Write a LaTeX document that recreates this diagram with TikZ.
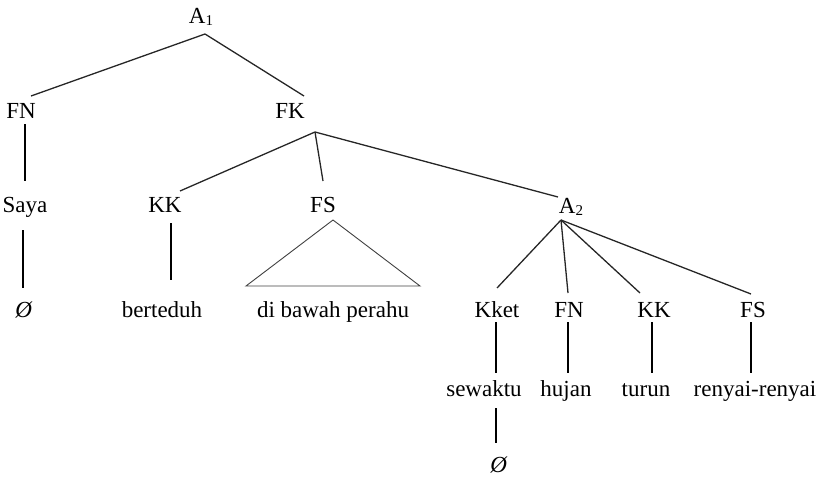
\documentclass[tikz,border=0pt]{standalone}
\usepackage{fontspec}
\setmainfont{Liberation Serif}
\begin{document}
\begin{tikzpicture}[x=1pt,y=-1pt,
  lbl/.style={anchor=base,inner sep=0pt,font=\fontsize{23}{27}\selectfont},
  diag/.style={line width=1.3pt,color=black!85},
  vert/.style={line width=2pt,color=black},
  tri/.style={line width=0.9pt,color=black!75}]
\useasboundingbox (0,0) rectangle (824,477);
% nodes
\node[lbl] (A1) at (201,23) {A\raisebox{-0.25ex}{\fontsize{15}{15}\selectfont 1}};
\node[lbl] (FN) at (21,118) {FN};
\node[lbl] (FK) at (290,118) {FK};
\node[lbl] (Saya) at (25,212) {Saya};
\node[lbl] (KK) at (165,212) {KK};
\node[lbl] (FS) at (323,212) {FS};
\node[lbl] (A2) at (571,213) {A\raisebox{-0.25ex}{\fontsize{15}{15}\selectfont 2}};
\node[lbl] (O1) at (24,317) {\textit{Ø}};
\node[lbl] (bert) at (162,317) {berteduh};
\node[lbl] (dbp) at (333,317) {di bawah perahu};
\node[lbl] (Kket) at (497,317) {Kket};
\node[lbl] (FNb) at (569,317) {FN};
\node[lbl] (KKb) at (654,317) {KK};
\node[lbl] (FSb) at (753,317) {FS};
\node[lbl] (sew) at (484,396) {sewaktu};
\node[lbl] (huj) at (566,396) {hujan};
\node[lbl] (tur) at (646,396) {turun};
\node[lbl] (ren) at (755,396) {renyai-renyai};
\node[lbl] (O2) at (499,472) {\textit{Ø}};
% connectors
\draw[diag] ([shift={(4,11)}]A1.base) -- ([shift={(10,-22)}]FN.base);
\draw[diag] ([shift={(4,11)}]A1.base) -- ([shift={(14,-22)}]FK.base);
\draw[vert] ([shift={(4,6)}]FN.base) -- ([shift={(0,-31)}]Saya.base);
\draw[diag] ([shift={(25,14)}]FK.base) -- ([shift={(15,-21)}]KK.base);
\draw[diag] ([shift={(25,14)}]FK.base) -- ([shift={(0,-31)}]FS.base);
\draw[diag] ([shift={(25,14)}]FK.base) -- ([shift={(-13,-16)}]A2.base);
\draw[vert] ([shift={(-2,18)}]Saya.base) -- ([shift={(-1,-29)}]O1.base);
\draw[vert] ([shift={(6,11)}]KK.base) -- ([shift={(9,-37)}]bert.base);
\draw[tri] ([shift={(10,8)}]FS.base) -- ([shift={(-87,-31)}]dbp.base)
  -- ([shift={(87,-31)}]dbp.base) -- cycle;
\draw[diag] ([shift={(-10,7)}]A2.base) -- ([shift={(0,-29)}]Kket.base);
\draw[diag] ([shift={(-10,7)}]A2.base) -- ([shift={(-1,-24)}]FNb.base);
\draw[diag] ([shift={(-10,7)}]A2.base) -- ([shift={(-14,-24)}]KKb.base);
\draw[diag] ([shift={(-10,7)}]A2.base) -- ([shift={(-2,-23)}]FSb.base);
\draw[vert] ([shift={(-1,5)}]Kket.base) -- ([shift={(12,-23)}]sew.base);
\draw[vert] ([shift={(-1,5)}]FNb.base) -- ([shift={(2,-23)}]huj.base);
\draw[vert] ([shift={(-2,5)}]KKb.base) -- ([shift={(6,-23)}]tur.base);
\draw[vert] ([shift={(-2,5)}]FSb.base) -- ([shift={(-4,-23)}]ren.base);
\draw[vert] ([shift={(12,12)}]sew.base) -- ([shift={(-3,-29)}]O2.base);
\end{tikzpicture}
\end{document}
